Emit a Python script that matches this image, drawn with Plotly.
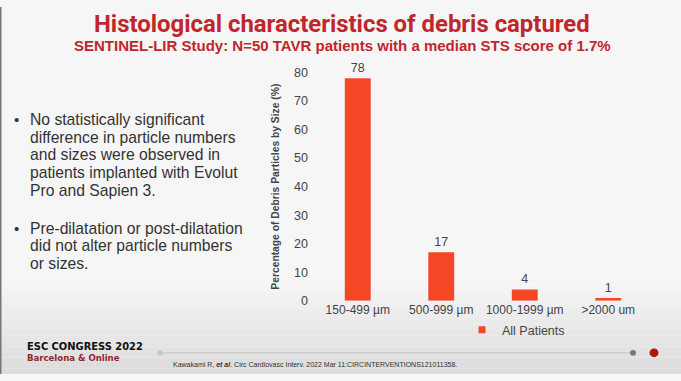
import plotly.graph_objects as go

W, H = 681, 381

categories = ["150-499 µm", "500-999 µm", "1000-1999 µm", ">2000 um"]
values = [78, 17, 4, 1]
series_name = "All Patients"
y_ticks = [0, 10, 20, 30, 40, 50, 60, 70, 80]

title = "Histological characteristics of debris captured"
subtitle = "SENTINEL-LIR Study: N=50 TAVR patients with a median STS score of 1.7%"
bullets = [
    ["No statistically significant", "difference in particle numbers",
     "and sizes were observed in", "patients implanted with Evolut",
     "Pro and Sapien 3."],
    ["Pre-dilatation or post-dilatation", "did not alter particle numbers",
     "or sizes."],
]
citation = "Kawakami R, <b><i>et al</i></b>. Circ Cardiovasc Interv. 2022 Mar 11:CIRCINTERVENTIONS121011358."

BAR = "#F54626"
RED = "#C0262C"
NARROW = "Liberation Sans Narrow, Liberation Sans, Arial"

def px(x):
    return x / W

def py(y):
    return 1 - y / H

fig = go.Figure()
fig.add_trace(go.Bar(
    x=categories, y=values, name=series_name,
    marker=dict(color=BAR, line=dict(width=0)),
    width=0.31,
    text=[str(v) for v in values], textposition="outside",
    textfont=dict(family=NARROW, size=12.5, color="#444"),
    cliponaxis=False, showlegend=False,
))
fig.add_trace(go.Scatter(
    x=[None], y=[None], mode="markers", name=series_name,
    marker=dict(symbol="square", size=7, color=BAR), showlegend=True,
))

shapes = []
n = 16
for i in range(n):
    y0 = 290 + i * (H - 290) / n
    y1 = 290 + (i + 1) * (H - 290) / n
    t = (i + 0.5) / n
    c = int(245 - 25 * t)
    shapes.append(dict(type="rect", xref="paper", yref="paper", x0=0, x1=1,
                       y0=py(y1), y1=py(y0), fillcolor=f"rgb({c},{c},{c})",
                       line=dict(width=0), layer="below"))
shapes.append(dict(type="rect", xref="paper", yref="paper", x0=0, x1=px(1.5),
                   y0=0, y1=1, fillcolor="#777", line=dict(width=0), layer="below"))
shapes.append(dict(type="line", xref="paper", yref="paper", x0=px(160), x1=px(633),
                   y0=py(359), y1=py(359), line=dict(color="#c4c4c4", width=1)))
shapes.append(dict(type="circle", xref="paper", yref="paper", x0=px(157), x1=px(163),
                   y0=py(362), y1=py(356), fillcolor="#c8c8c8", line=dict(width=0)))
shapes.append(dict(type="circle", xref="paper", yref="paper", x0=px(630), x1=px(636),
                   y0=py(362), y1=py(356), fillcolor="#777", line=dict(width=0)))
shapes.append(dict(type="circle", xref="paper", yref="paper", x0=px(649.5), x1=px(658.5),
                   y0=py(363.5), y1=py(354.5), fillcolor="#B0150F", line=dict(width=0)))

annotations = [
    dict(text=f"<b>{title}</b>", x=px(342), y=py(17.5), xref="paper", yref="paper",
         showarrow=False, xanchor="center", yanchor="middle",
         font=dict(family="Liberation Sans Narrow, Roboto", size=23.9, color=RED)),
    dict(text=f"<b>{subtitle}</b>", x=px(342), y=py(39.5), xref="paper", yref="paper",
         showarrow=False, xanchor="center", yanchor="middle",
         font=dict(family="Liberation Sans, Arial", size=15, color=RED)),
    dict(text="<b>ESC CONGRESS 2022</b>", x=px(25), y=py(352), xref="paper", yref="paper",
         showarrow=False, xanchor="left", yanchor="middle",
         font=dict(family="DejaVu Sans Condensed, DejaVu Sans", size=11, color="#111")),
    dict(text="<b>Barcelona &amp; Online</b>", x=px(25), y=py(363.5), xref="paper", yref="paper",
         showarrow=False, xanchor="left", yanchor="middle",
         font=dict(family="DejaVu Sans Condensed, DejaVu Sans", size=9.5, color="#8E2A2A")),
    dict(text=citation, x=px(171), y=py(371), xref="paper", yref="paper",
         showarrow=False, xanchor="left", yanchor="middle",
         font=dict(family="Liberation Sans Narrow, Liberation Sans", size=7, color="#333")),
]

line_y = [[116.5, 135, 153.5, 172, 190.5], [229.5, 248, 266.5]]
for blk, ys in zip(bullets, line_y):
    annotations.append(dict(text="•", x=px(12), y=py(ys[0]), xref="paper", yref="paper",
                            showarrow=False, xanchor="left", yanchor="middle",
                            font=dict(family="Liberation Sans, Arial", size=15, color="#333")))
    for txt, yy in zip(blk, ys):
        annotations.append(dict(text=txt, x=px(27.5), y=py(yy), xref="paper", yref="paper",
                                showarrow=False, xanchor="left", yanchor="middle",
                                font=dict(family="Liberation Sans, Arial", size=15.7, color="#333")))

fig.update_layout(
    width=W, height=H,
    margin=dict(l=0, r=0, t=0, b=0),
    paper_bgcolor="#f6f6f6", plot_bgcolor="rgba(0,0,0,0)",
    xaxis=dict(domain=[px(316), px(650)], showgrid=False, showline=False, zeroline=False,
               ticks="", tickfont=dict(family=NARROW, size=12, color="#444"),
               anchor="y"),
    yaxis=dict(domain=[py(305), py(68)], range=[0, 80], tickvals=y_ticks,
               showgrid=False, showline=False, zeroline=False, ticks="",
               ticklabelstandoff=7,
               tickfont=dict(family=NARROW, size=12.5, color="#444"),
               title=dict(text="<b>Percentage of Debris Particles by Size (%)</b>",
                          font=dict(family=NARROW, size=10.3, color="#444"),
                          standoff=12)),
    legend=dict(orientation="h", x=px(462), y=py(320), xanchor="left", yanchor="top",
                xref="paper", yref="paper", itemwidth=30,
                bgcolor="rgba(0,0,0,0)", font=dict(family=NARROW, size=12.5, color="#444")),
    shapes=shapes, annotations=annotations,
    showlegend=True,
)

post = (
    "var s=document.createElement('style');"
    "s.textContent='html,body{margin:0;padding:0;overflow:hidden;width:681px;height:381px;}';"
    "document.head.appendChild(s);"
)
fig.write_html("out.html", config={"displayModeBar": False}, post_script=post)
